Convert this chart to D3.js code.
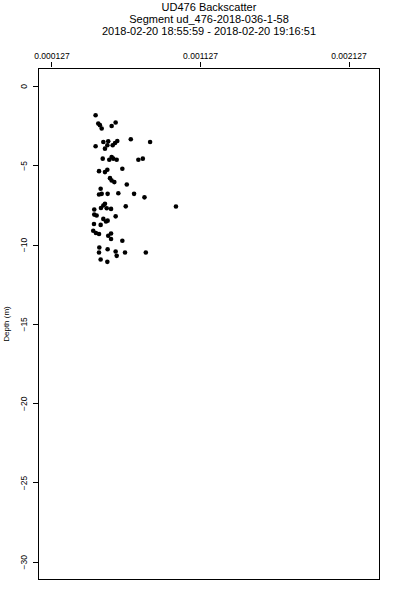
<!DOCTYPE html>
<html>
<head>
<meta charset="utf-8">
<script src="https://cdn.jsdelivr.net/npm/d3@7"></script>
<style>
  html, body { margin: 0; padding: 0; background: #fff; }
  svg text { font-family: "Liberation Sans", Arial, sans-serif; fill: #000; }
</style>
</head>
<body>
<svg id="chart" width="400" height="600"></svg>
<script>
const titleLines = [
  "UD476 Backscatter",
  "Segment ud_476-2018-036-1-58",
  "2018-02-20 18:55:59 - 2018-02-20 19:16:51"
];
const yLabel = "Depth (m)";
const xTicks = [0.000127, 0.001127, 0.002127];
const xTickLabels = ["0.000127", "0.001127", "0.002127"];
const yTicks = [0, -5, -10, -15, -20, -25, -30];

// backscatter values
const backscatter = [
  0.000424, 0.000453, 0.000442, 0.000465, 0.000532, 0.000559, 0.000661, 0.000791,
  0.000424, 0.000476, 0.000509, 0.000487, 0.000503, 0.000539, 0.000555, 0.000570,
  0.000472, 0.000516, 0.000532, 0.000543, 0.000566, 0.000712, 0.000742,
  0.000447, 0.000487, 0.000503, 0.000604, 0.000521, 0.000532, 0.000550, 0.000634,
  0.000458, 0.000447, 0.000465, 0.000505, 0.000577, 0.000683, 0.000753, 0.000965,
  0.000415, 0.000460, 0.000487, 0.000476, 0.000499, 0.000528, 0.000627,
  0.000415, 0.000431, 0.000559, 0.000476, 0.000494, 0.000505, 0.000413, 0.000458,
  0.000408, 0.000426, 0.000447, 0.000509, 0.000528, 0.000528, 0.000604,
  0.000449, 0.000505, 0.000447, 0.000559, 0.000566, 0.000622, 0.000762,
  0.000458, 0.000503
];
// depth (m)
const depth = [
  -1.84, -2.47, -2.36, -2.68, -2.52, -2.30, -3.36, -3.53,
  -3.80, -3.53, -3.49, -3.95, -3.74, -3.74, -3.59, -3.47,
  -4.58, -4.65, -4.48, -4.58, -4.65, -4.65, -4.58,
  -5.37, -5.43, -5.28, -5.22, -5.81, -5.96, -6.06, -6.21,
  -6.48, -6.84, -6.80, -6.80, -6.76, -6.80, -7.02, -7.60,
  -7.79, -7.69, -7.43, -7.54, -7.71, -7.75, -7.59,
  -8.11, -8.17, -8.22, -8.38, -8.54, -8.49, -8.70, -8.76,
  -9.13, -9.27, -9.33, -9.44, -9.30, -9.65, -9.76,
  -10.18, -10.29, -10.50, -10.44, -10.71, -10.50, -10.50,
  -10.94, -11.09
];

const svg = d3.select("#chart");
const L = 38, R = 380, T = 68, B = 580;

const x = d3.scaleLinear().domain([0.0000361, 0.0023391]).range([L, R]);
const y = d3.scaleLinear().domain([1.135, -31.15]).range([T, B]);

// title
svg.append("g").selectAll("text").data(titleLines).join("text")
  .attr("x", (L + R) / 2)
  .attr("y", (d, i) => [11, 23, 34.5][i])
  .attr("text-anchor", "middle")
  .attr("font-size", 11)
  .text(d => d);

// top axis
const xAxis = d3.axisTop(x).tickValues(xTicks)
  .tickFormat((d, i) => xTickLabels[i]).tickSizeOuter(0).tickSize(5).tickPadding(3);
const gx = svg.append("g").attr("transform", `translate(0,${T - 1.5})`).call(xAxis);
gx.select(".domain").remove();
gx.selectAll("line").attr("stroke", "#000").attr("shape-rendering", "crispEdges");
gx.selectAll("text").attr("font-size", 8.5).style("font-family", "Liberation Sans, Arial, sans-serif");

// left axis
const yAxis = d3.axisLeft(y).tickValues(yTicks).tickFormat(d3.format("d"))
  .tickSizeOuter(0).tickSize(5);
const gy = svg.append("g").attr("transform", `translate(${L},0)`).call(yAxis);
gy.select(".domain").remove();
gy.selectAll("line").attr("stroke", "#000").attr("shape-rendering", "crispEdges");
gy.selectAll("text")
  .attr("font-size", 8.5)
  .style("font-family", "Liberation Sans, Arial, sans-serif")
  .attr("x", null).attr("dy", null)
  .attr("text-anchor", "middle")
  .attr("transform", "translate(-11,0) rotate(-90)");

// box
svg.append("rect")
  .attr("x", L + 0.5).attr("y", T + 0.5)
  .attr("width", R - L - 1).attr("height", B - T - 1)
  .attr("fill", "none").attr("stroke", "#000").attr("stroke-width", 1)
  .attr("shape-rendering", "crispEdges");

// y label
svg.append("text")
  .attr("transform", `translate(9,${(T + B) / 2}) rotate(-90)`)
  .attr("text-anchor", "middle")
  .attr("font-size", 8)
  .text(yLabel);

// points
const pts = backscatter.map((v, i) => ({ v, d: depth[i] }));
svg.append("g").selectAll("circle").data(pts).join("circle")
  .attr("cx", p => x(p.v))
  .attr("cy", p => y(p.d))
  .attr("r", 2.3)
  .attr("fill", "#000");
</script>
</body>
</html>
